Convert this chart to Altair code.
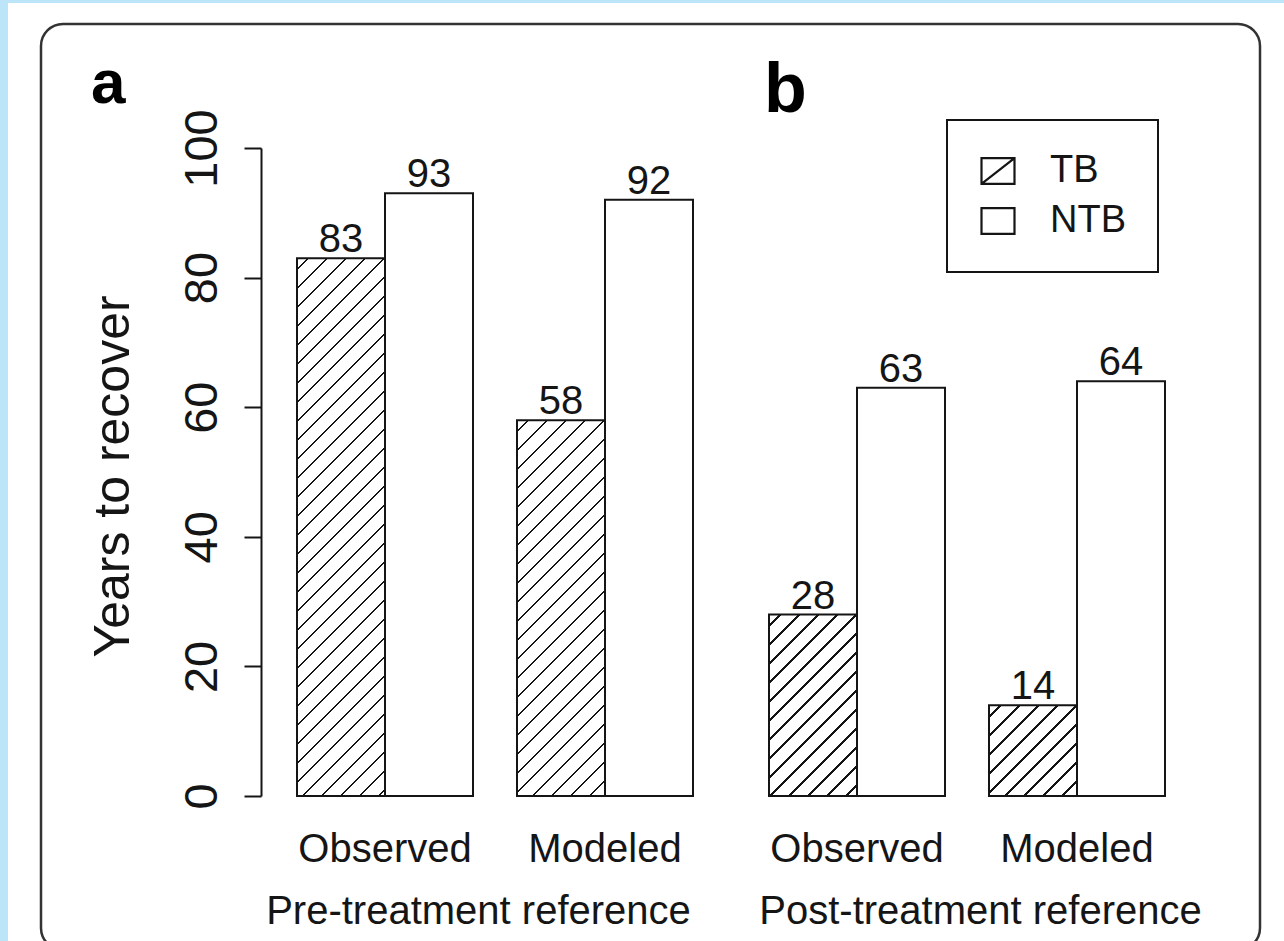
import altair as alt
import pandas as pd

# ---- data -------------------------------------------------------------
groups = ["Observed", "Modeled"]
series = ["TB", "NTB"]
tb_pre = [83, 58]
ntb_pre = [93, 92]
tb_post = [28, 14]
ntb_post = [63, 64]
panel_letters = ["a", "b"]
panel_titles = ["Pre-treatment reference", "Post-treatment reference"]
y_ticks = [0, 20, 40, 60, 80, 100]
y_title = "Years to recover"

# ---- geometry / style -------------------------------------------------
W, H = 468, 648                 # plot area of one panel
PAD_IN = 0.2                    # gap between the two groups (fraction of step)
PAD_OUT = 36 / 220              # gap between axis and first group
STEP = W / (len(groups) - PAD_IN + 2 * PAD_OUT)
BAR_W = STEP * (1 - PAD_IN) / len(series)
PX_PER_UNIT = H / 100.0

INK = "#151515"
FONT = "Liberation Sans"
BLUE = "#bde5fa"

TB_SYMBOL = "M-1,-0.78H1V0.78H-1Z M-1,0.78L1,-0.78"
NTB_SYMBOL = "M-1,-0.78H1V0.78H-1Z"


def hatch_fill(value, period=19.0, half=1.35):
    """Diagonal (45 deg) hatching for one bar as a hard-stop linear gradient."""
    w = BAR_W
    h = value * PX_PER_UNIT
    span = w + h
    k = span / (w * w + h * h)
    stops = [alt.GradientStop(color="white", offset=0)]
    pos = period * 0.6
    while pos + half < span:
        a = (pos - half) / span
        b = (pos + half) / span
        stops += [
            alt.GradientStop(color="white", offset=a),
            alt.GradientStop(color=INK, offset=a),
            alt.GradientStop(color=INK, offset=b),
            alt.GradientStop(color="white", offset=b),
        ]
        pos += period
    stops.append(alt.GradientStop(color="white", offset=1))
    return alt.LinearGradient(gradient="linear", x1=0, y1=0, x2=w * k, y2=h * k, stops=stops)


def panel(idx, tb, ntb):
    df = pd.DataFrame({
        "group": groups * 2,
        "series": ["TB"] * len(groups) + ["NTB"] * len(groups),
        "value": tb + ntb,
    })
    base = alt.Chart(df)

    x = alt.X(
        "group:N", sort=groups,
        scale=alt.Scale(paddingInner=PAD_IN, paddingOuter=PAD_OUT),
        axis=alt.Axis(
            title=panel_titles[idx], domain=False, ticks=False, tickSize=0,
            labelAngle=0, labelFontSize=40, labelPadding=65, labelBaseline="alphabetic",
            labelColor=INK, titleColor=INK, titleFontSize=40, titleFontWeight="normal",
            titleX=217 if idx == 0 else 247, titleY=127,
            titleAlign="center", titleBaseline="alphabetic", zindex=1,
        ),
    )
    xo = alt.XOffset("series:N", sort=series,
                     scale=alt.Scale(domain=series, paddingInner=0, paddingOuter=0))
    if idx == 0:
        y_axis = alt.Axis(
            title=y_title, values=y_ticks, grid=False,
            domainColor=INK, domainWidth=2, tickColor=INK, tickWidth=2, tickSize=17,
            labelAngle=270, labelAlign="center", labelBaseline="alphabetic",
            labelPadding=28, labelFontSize=47, labelColor=INK,
            titleAngle=270, titleFontSize=50, titleFontWeight="normal", titleColor=INK,
            titleX=-133, titleY=328, titleAlign="center", titleBaseline="alphabetic",
            zindex=1,
        )
    else:
        y_axis = None
    y = alt.Y("value:Q", stack=None,
              scale=alt.Scale(domain=[0, 100], nice=False), axis=y_axis)

    layers = []
    one = alt.Data(values=[{}])

    if idx == 0:
        # white sheet and rounded frame around both panels
        layers.append(alt.Chart(one).mark_rect(fill="white").encode(
            x=alt.value(-253), x2=alt.value(1023), y=alt.value(-145), y2=alt.value(802)))
        layers.append(alt.Chart(one).mark_rect(
            fill="white", fillOpacity=0, stroke="#333333", strokeWidth=2.5, cornerRadius=22
        ).encode(x=alt.value(-220), x2=alt.value(999), y=alt.value(-124), y2=alt.value(802)))

    # hatched TB bars (each bar gets its own gradient sized to its height)
    for g, v in zip(groups, tb):
        layers.append(
            base.transform_filter((alt.datum.series == "TB") & (alt.datum.group == g))
            .mark_bar(fill=hatch_fill(v), stroke=INK, strokeWidth=2)
            .encode(x=x, xOffset=xo, y=y)
        )
    # open NTB bars
    layers.append(
        base.transform_filter(alt.datum.series == "NTB")
        .mark_bar(fill="white", stroke=INK, strokeWidth=2)
        .encode(x=x, xOffset=xo, y=y)
    )
    # value labels
    layers.append(
        base.mark_text(fontSize=40, baseline="alphabetic", dy=-6, color=INK)
        .encode(x=x, xOffset=xo, y=y, text="value:Q")
    )
    # panel letter
    layers.append(
        alt.Chart(one).mark_text(text=panel_letters[idx], fontSize=62 if idx == 0 else 70,
                                 fontWeight="bold", align="left", baseline="alphabetic",
                                 color="#000000")
        .encode(x=alt.value(-170 if idx == 0 else 31), y=alt.value(-45 if idx == 0 else -36))
    )
    if idx == 1:
        # zero-size outline points that carry the TB / NTB key
        layers.append(
            base.mark_point(size=0, filled=False, color=INK, strokeWidth=2, opacity=1)
            .encode(
                x=x, xOffset=xo, y=y,
                shape=alt.Shape(
                    "series:N", sort=series,
                    scale=alt.Scale(domain=series, range=[TB_SYMBOL, NTB_SYMBOL]),
                    legend=alt.Legend(
                        title=None, orient="none", legendX=214, legendY=-28,
                        strokeColor=INK, padding=32, symbolSize=1089,
                        symbolStrokeColor=INK, symbolStrokeWidth=2.2, symbolOpacity=1,
                        labelFontSize=38, labelOffset=33, labelColor=INK,
                        rowPadding=12,
                    ),
                ),
            )
        )
    return alt.layer(*layers).properties(width=W, height=H)


chart = (
    alt.hconcat(panel(0, tb_pre, ntb_pre), panel(1, tb_post, ntb_post),
                spacing=4, bounds="flush")
    .resolve_scale(shape="independent")
    .properties(background=BLUE, padding={"left": 8, "top": 3, "right": 0, "bottom": 0})
    .configure(font=FONT)
    .configure_view(stroke=None)
    .configure_axis(grid=False)
    .configure_legend(strokeWidth=2)
)

chart.save("out.html", embed_options={"renderer": "svg", "actions": False})
